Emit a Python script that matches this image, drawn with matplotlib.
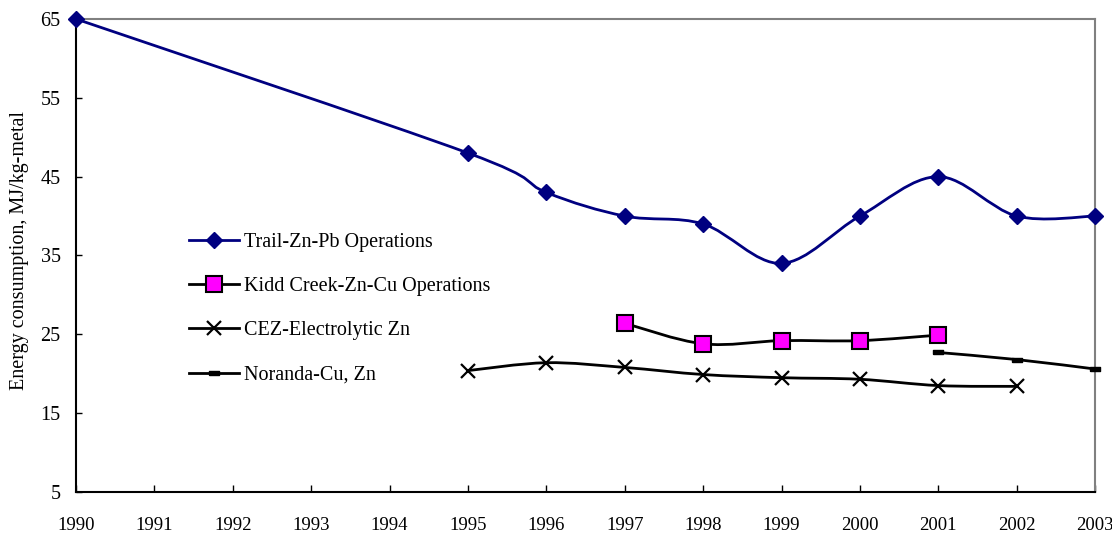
import numpy as np
import matplotlib
matplotlib.use("Agg")
import matplotlib.pyplot as plt
from matplotlib.path import Path
from matplotlib.patches import PathPatch
from matplotlib.lines import Line2D

plt.rcParams['font.family'] = ['Liberation Serif', 'DejaVu Serif']
plt.rcParams['font.size'] = 14.5

trail_years = [1990, 1995, 1996, 1997, 1998, 1999, 2000, 2001, 2002, 2003]
trail_vals = [65, 48, 43, 40, 39, 34, 40, 45, 40, 40]
kidd_years = [1997, 1998, 1999, 2000, 2001]
kidd_vals = [26.4, 23.8, 24.2, 24.2, 24.9]
cez_years = [1995, 1996, 1997, 1998, 1999, 2000, 2001, 2002]
cez_vals = [20.4, 21.4, 20.8, 19.9, 19.5, 19.3, 18.5, 18.4]
noranda_years = [2001, 2002, 2003]
noranda_vals = [22.7, 21.8, 20.6]
xticks = list(range(1990, 2004))
yticks = [5, 15, 25, 35, 45, 55, 65]
ylabel = "Energy consumption, MJ/kg-metal"
labels = ["Trail-Zn-Pb Operations", "Kidd Creek-Zn-Cu Operations",
          "CEZ-Electrolytic Zn", "Noranda-Cu, Zn"]


def smooth_path(xs, ys):
    pts = np.column_stack([xs, ys]).astype(float)
    n = len(pts)
    verts = [pts[0]]
    codes = [Path.MOVETO]
    for i in range(n - 1):
        p0 = pts[i - 1] if i > 0 else pts[i]
        p1 = pts[i]
        p2 = pts[i + 1]
        p3 = pts[i + 2] if i + 2 < n else pts[i + 1]
        c1 = p1 + (p2 - p0) / 6.0
        c2 = p2 - (p3 - p1) / 6.0
        verts += [c1, c2, p2]
        codes += [Path.CURVE4] * 3
    return Path(verts, codes)


fig = plt.figure(figsize=(11.12, 5.33), dpi=100)
ax = fig.add_axes([0.0683, 0.0769, 0.9165, 0.8875])

dash = [(-1, -0.45), (1, -0.45), (1, 0.45), (-1, 0.45), (-1, -0.45)]
series = [
    (trail_years, trail_vals, '#000080', dict(marker='D', markersize=8, markerfacecolor='#000080', markeredgecolor='#000080')),
    (kidd_years, kidd_vals, 'black', dict(marker='s', markersize=11, markerfacecolor='#FF00FF', markeredgecolor='black', markeredgewidth=1.5)),
    (cez_years, cez_vals, 'black', dict(marker='x', markersize=10, markeredgecolor='black', markeredgewidth=1.6)),
    (noranda_years, noranda_vals, 'black', dict(marker=dash, markersize=7, markerfacecolor='black', markeredgecolor='black')),
]
handles = []
for (xs, ys, col, mk), lab in zip(series, labels):
    patch = PathPatch(smooth_path(xs, ys), facecolor='none', edgecolor=col, lw=2, zorder=2)
    ax.add_patch(patch)
    ax.plot(xs, ys, linestyle='none', zorder=3, clip_on=False, **mk)
    handles.append(Line2D([], [], color=col, lw=2, **mk))

ax.set_xlim(1990, 2003)
ax.set_ylim(5, 65)
ax.set_xticks(xticks)
ax.set_xticklabels([str(x) for x in xticks], fontsize=13.5)
ax.set_yticks(yticks)
ax.tick_params(axis='x', direction='in', length=5, pad=18, width=1)
ax.tick_params(axis='y', direction='in', length=4, pad=11, width=1)
for s in ['top', 'right']:
    ax.spines[s].set_color('#808080')
    ax.spines[s].set_linewidth(1.5)
for s in ['left', 'bottom']:
    ax.spines[s].set_color('black')
    ax.spines[s].set_linewidth(1.5)
ax.set_ylabel(ylabel)
ax.yaxis.set_label_coords(-0.046, 0.51)

ax.legend(handles, labels, loc='upper left', bbox_to_anchor=(0.111, 0.547),
          frameon=False, borderpad=0, labelspacing=1.24, handlelength=2.5,
          handletextpad=0.25, borderaxespad=0)

fig.savefig('out.png', dpi=100)
